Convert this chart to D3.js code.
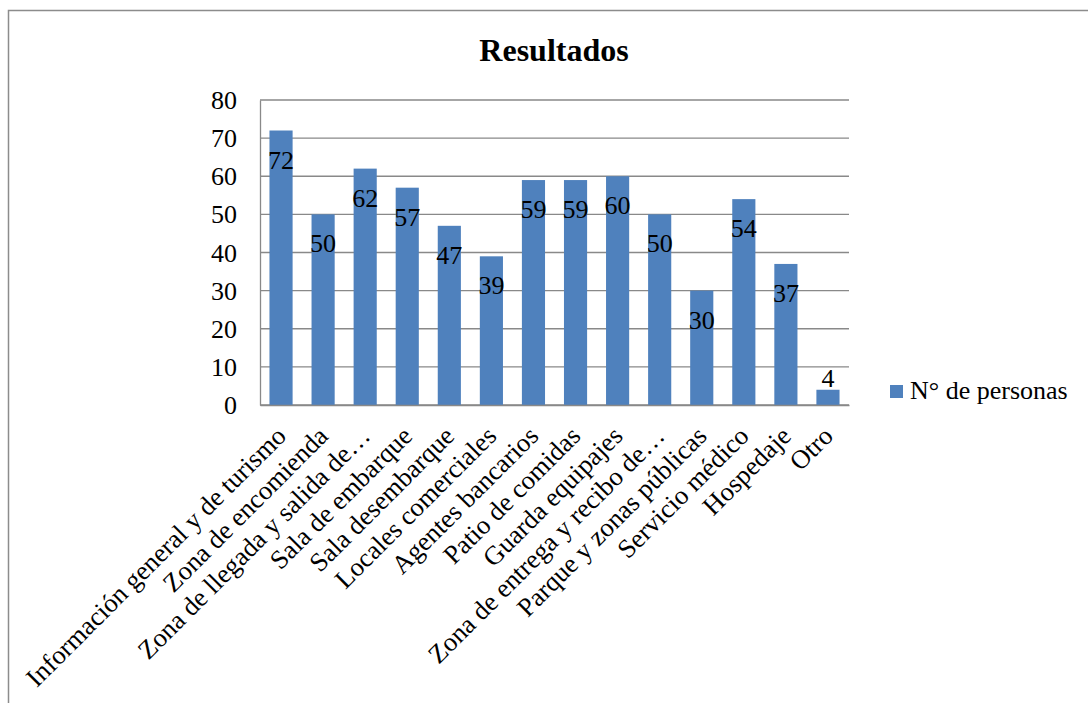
<!DOCTYPE html>
<html>
<head>
<meta charset="utf-8">
<script src="https://cdn.jsdelivr.net/npm/d3@7"></script>
<style>
  body { margin: 0; background: #fff; }
</style>
</head>
<body>
<div id="chart"></div>
<script>
// Datos del gráfico
const categories = [
  "Información general y de turismo",
  "Zona de encomienda",
  "Zona de llegada y salida de…",
  "Sala de embarque",
  "Sala desembarque",
  "Locales comerciales",
  "Agentes bancarios",
  "Patio de comidas",
  "Guarda equipajes",
  "Zona de entrega y recibo de…",
  "Parque y zonas públicas",
  "Servicio médico",
  "Hospedaje",
  "Otro"
];
const values = [72, 50, 62, 57, 47, 39, 59, 59, 60, 50, 30, 54, 37, 4];
const yTicks = [0, 10, 20, 30, 40, 50, 60, 70, 80];
const seriesName = "N° de personas";
const chartTitle = "Resultados";

const W = 1088, H = 703;
const plot = { left: 260, right: 849, top: 100, bottom: 405 };
const barColor = "#4F81BD";
const gridColor = "#898989";
const FONT = "'Liberation Serif', 'Times New Roman', serif";

const svg = d3.select("#chart").append("svg")
  .attr("width", W)
  .attr("height", H)
  .style("font-family", FONT);

// Marco exterior
svg.append("rect")
  .attr("x", 8.5).attr("y", 10.5)
  .attr("width", W + 20).attr("height", H + 20)
  .attr("fill", "none")
  .attr("stroke", "#8c8c8c")
  .attr("stroke-width", 1.5);

// Escalas
const x = d3.scaleBand()
  .domain(categories)
  .range([plot.left, plot.right])
  .paddingInner(0.45)
  .paddingOuter(0.225);

const y = d3.scaleLinear()
  .domain([0, 80])
  .range([plot.bottom, plot.top]);

// Líneas de cuadrícula
svg.append("g")
  .selectAll("line")
  .data(yTicks)
  .enter().append("line")
  .attr("x1", plot.left)
  .attr("x2", plot.right)
  .attr("y1", d => y(d))
  .attr("y2", d => y(d))
  .attr("stroke", gridColor)
  .attr("stroke-width", 1.3);

// Eje Y
const yAxis = svg.append("g")
  .attr("transform", `translate(${plot.left},0)`)
  .call(d3.axisLeft(y).tickValues(yTicks).tickSize(0).tickPadding(23));
yAxis.attr("font-family", null);
yAxis.select(".domain").attr("stroke", gridColor).attr("stroke-width", 1.3);
yAxis.selectAll("text")
  .style("font-family", FONT)
  .style("font-size", "26px")
  .attr("fill", "#000")
  .attr("dy", "0.33em");

// Barras
svg.selectAll(".bar")
  .data(values)
  .enter().append("rect")
  .attr("class", "bar")
  .attr("x", (d, i) => x(categories[i]))
  .attr("y", d => y(d))
  .attr("width", x.bandwidth())
  .attr("height", d => y(0) - y(d))
  .attr("fill", barColor);

// Eje X
const xAxis = svg.append("g")
  .attr("transform", `translate(0,${plot.bottom})`)
  .call(d3.axisBottom(x).tickSize(0).tickPadding(0));
xAxis.attr("font-family", null);
xAxis.select(".domain").attr("stroke", gridColor).attr("stroke-width", 1.3);
xAxis.selectAll("text")
  .style("font-family", FONT)
  .style("font-size", "26.5px")
  .attr("fill", "#000")
  .attr("text-anchor", "end")
  .attr("dy", "0.35em")
  .attr("transform", "translate(0,26) rotate(-45)");

// Etiquetas de datos
svg.selectAll(".bar-label")
  .data(values)
  .enter().append("text")
  .attr("class", "bar-label")
  .attr("x", (d, i) => x(categories[i]) + x.bandwidth() / 2)
  .attr("y", d => d < 10 ? y(d) - 3 : y(d) + 38)
  .attr("text-anchor", "middle")
  .style("font-family", FONT)
  .style("font-size", "26px")
  .text(d => d);

// Título
svg.append("text")
  .attr("x", 554)
  .attr("y", 61)
  .attr("text-anchor", "middle")
  .style("font-family", FONT)
  .style("font-size", "32px")
  .style("font-weight", "bold")
  .text(chartTitle);

// Leyenda
svg.append("rect")
  .attr("x", 890).attr("y", 385)
  .attr("width", 13).attr("height", 13)
  .attr("fill", barColor);
svg.append("text")
  .attr("x", 910)
  .attr("y", 399)
  .style("font-family", FONT)
  .style("font-size", "26px")
  .text(seriesName);
</script>
</body>
</html>
